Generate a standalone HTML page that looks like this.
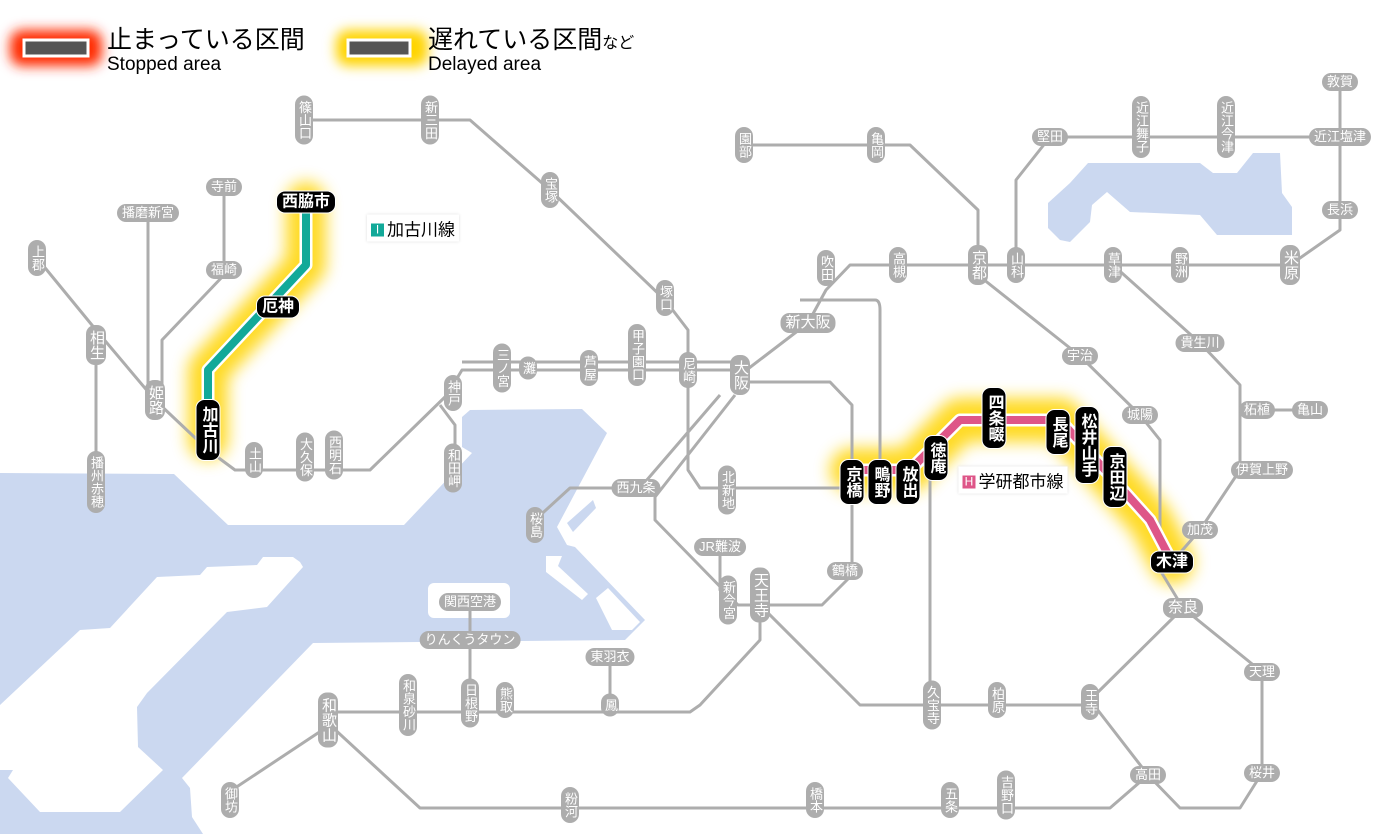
<!DOCTYPE html>
<html><head><meta charset="utf-8"><style>
body{margin:0;width:1400px;height:834px;overflow:hidden;background:#fff;position:relative;font-family:"Liberation Sans","Noto Sans CJK JP",sans-serif}
svg{position:absolute;left:0;top:0}
.s{position:absolute;transform:translate(-50%,-50%);background:#adadad;color:#fff;border-radius:9px;font-size:13px;line-height:14px;white-space:nowrap;padding:2px 5px;font-family:"Liberation Sans","Noto Sans CJK JP",sans-serif}
.v{writing-mode:vertical-rl;padding:5px 2px;letter-spacing:0}
.b{font-size:15px;line-height:16px}
.k{background:#000;font-size:16px;line-height:17px;font-weight:bold;border:1px solid #fff}
.k.v{padding:6px 3px}
.lg{position:absolute;font-family:"Liberation Sans","Noto Sans CJK JP",sans-serif;color:#000}
.ln{position:absolute;transform:translate(-50%,-50%);background:#fff;padding:1px 4px;font-size:17px;box-shadow:0 0 3px #ddd;white-space:nowrap}
.ln i{font-style:normal;color:#fff;font-size:12px;line-height:13px;display:inline-block;width:13px;text-align:center;margin-right:3px;vertical-align:2px}
</style></head><body>
<svg width="1400" height="834" viewBox="0 0 1400 834">
<defs>
<filter id="bl" x="-50%" y="-50%" width="200%" height="200%"><feGaussianBlur stdDeviation="8"/></filter>
<filter id="bl2" x="-50%" y="-50%" width="200%" height="200%"><feGaussianBlur stdDeviation="6"/></filter>
</defs>
<!-- water -->
<g fill="#cbd8f0">
<polygon points="0,473 174,474 228,525 404,525 472,453 462,447 462,417 470,410 582,409 607,433 557,527 567,545 575,547 645,620 638,627 625,640 313,643 182,778 190,788 192,817 203,834 0,834"/>
<polygon points="567,523 593,500 596,508 573,532"/>
<polygon points="1088,163 1200,163 1213,173 1237,173 1253,153 1280,153 1282,193 1292,207 1292,235 1217,235 1200,215 1130,212 1107,192 1092,205 1090,222 1070,242 1060,240 1048,228 1048,203 1070,183"/>
</g>
<g fill="#fff">
<polygon points="300,562 293,557 263,557 257,565 207,567 200,575 157,577 110,628 80,630 0,705 0,770 13,770 8,778 40,812 120,812 163,770 138,747 137,707 147,693 227,612 267,607 303,567"/>
<rect x="428" y="583" width="82" height="35" rx="6"/>
<polygon points="546,556 562,556 558,566 588,594 582,600 546,572"/>
<polygon points="596,598 608,588 640,622 632,630 612,630"/>
</g>
<!-- glows -->
<g fill="none" stroke-linecap="round" stroke-linejoin="round">
<path d="M306,202 V265 L208,370 V440" stroke="#ffd400" stroke-width="40" filter="url(#bl)" opacity="0.85"/>
<path d="M852,470 H910 L960,420 H1060 L1150,520 L1172,562" stroke="#ffd400" stroke-width="44" filter="url(#bl)" opacity="0.85"/>
</g>
<!-- gray lines -->
<g fill="none" stroke="#adadad" stroke-width="3" stroke-linejoin="round">
<path d="M37,258 L96,330 L155,400 L208,450 L235,470 H370 L447,395 L462,370 H740"/>
<path d="M462,362 H740"/>
<path d="M96,330 V485"/>
<path d="M148,213 V385"/>
<path d="M224,187 V275 L162,340 V390"/>
<path d="M440,405 L455,425 V470"/>
<path d="M304,120 H470 L550,190 L665,300 L688,330 V470 L700,488 H852"/>
<path d="M750,382 H830 L852,405 V575 L822,605 H738 L655,520 V497 L735,395"/>
<path d="M720,395 L640,488 H570 L535,520"/>
<path d="M720,547 V590 L735,605"/>
<path d="M740,375 L808,323 L826,290 L850,265 H1290 L1340,230 V82"/>
<path d="M744,145 H910 L978,210 V265"/>
<path d="M1016,265 V180 L1050,137 H1340"/>
<path d="M800,300 H875 Q880,300 880,310 V470"/>
<path d="M930,480 V705"/>
<path d="M1113,265 L1200,343 L1240,385 V410 H1310"/>
<path d="M1240,410 V470 L1200,530 L1172,562"/>
<path d="M978,275 L1080,356 L1140,415 L1160,440 V570 L1183,608 L1262,672 V773"/>
<path d="M1183,608 L1090,700 L1148,775 L1180,808 H1240 L1262,773"/>
<path d="M760,605 L860,705 H1090"/>
<path d="M760,610 V640 L700,705 L690,712 H330"/>
<path d="M470,602 V705"/>
<path d="M610,657 V705"/>
<path d="M330,725 L232,790"/>
<path d="M330,725 L420,808 H1110 L1148,775"/>
</g>
<!-- colored lines -->
<g fill="none" stroke-linecap="round" stroke-linejoin="round">
<path d="M306,202 V265 L208,370 V440" stroke="#fff" stroke-width="13"/>
<path d="M306,202 V265 L208,370 V440" stroke="#12a999" stroke-width="8"/>
<path d="M852,470 H910 L960,420 H1060 L1150,520 L1172,562" stroke="#fff" stroke-width="13"/>
<path d="M852,470 H910 L960,420 H1060 L1150,520 L1172,562" stroke="#de5588" stroke-width="8"/>
</g>
<!-- legend -->
<rect x="10" y="30" width="92" height="36" rx="12" fill="#ff2a00" filter="url(#bl2)"/>
<rect x="24" y="40" width="64" height="16" fill="#555" stroke="#fff" stroke-width="3"/>
<rect x="336" y="30" width="92" height="36" rx="12" fill="#ffd400" filter="url(#bl2)"/>
<rect x="348" y="40" width="62" height="16" fill="#555" stroke="#fff" stroke-width="3"/>
</svg>
<div class="lg" style="left:107px;top:25px;font-size:25px;line-height:30px">止まっている区間</div>
<div class="lg" style="left:107px;top:54px;font-size:19px">Stopped area</div>
<div class="lg" style="left:428px;top:25px;font-size:25px;line-height:30px">遅れている区間<span style="font-size:16px">など</span></div>
<div class="lg" style="left:428px;top:54px;font-size:19px">Delayed area</div>

<div class="ln" style="left:413px;top:228px"><i style="background:#12a999">I</i>加古川線</div>
<div class="ln" style="left:1013px;top:480px"><i style="background:#de5588">H</i>学研都市線</div>

<div class="s v" style="left:304px;top:120px">篠山口</div>
<div class="s v" style="left:430px;top:120px">新三田</div>
<div class="s v" style="left:550px;top:190px">宝塚</div>
<div class="s v" style="left:665px;top:298px">塚口</div>
<div class="s v" style="left:688px;top:370px">尼崎</div>
<div class="s v" style="left:637px;top:355px">甲子園口</div>
<div class="s v" style="left:589px;top:368px">芦屋</div>
<div class="s v" style="left:528px;top:368px">灘</div>
<div class="s v" style="left:502px;top:368px">三ノ宮</div>
<div class="s v" style="left:453px;top:393px">神戸</div>
<div class="s v" style="left:453px;top:468px">和田岬</div>
<div class="s v" style="left:334px;top:455px">西明石</div>
<div class="s v" style="left:305px;top:457px">大久保</div>
<div class="s v" style="left:254px;top:460px">土山</div>
<div class="s v b" style="left:155px;top:400px">姫路</div>
<div class="s v b" style="left:96px;top:345px">相生</div>
<div class="s v" style="left:37px;top:258px">上郡</div>
<div class="s v" style="left:96px;top:482px">播州赤穂</div>
<div class="s v" style="left:535px;top:525px">桜島</div>
<div class="s v" style="left:727px;top:490px">北新地</div>
<div class="s v" style="left:728px;top:600px">新今宮</div>
<div class="s v b" style="left:760px;top:595px">天王寺</div>
<div class="s v" style="left:744px;top:145px">園部</div>
<div class="s v" style="left:876px;top:145px">亀岡</div>
<div class="s v" style="left:826px;top:268px">吹田</div>
<div class="s v" style="left:898px;top:265px">高槻</div>
<div class="s v b" style="left:978px;top:265px">京都</div>
<div class="s v" style="left:1016px;top:265px">山科</div>
<div class="s v" style="left:1113px;top:265px">草津</div>
<div class="s v" style="left:1180px;top:265px">野洲</div>
<div class="s v b" style="left:1290px;top:265px">米原</div>
<div class="s v" style="left:1141px;top:127px">近江舞子</div>
<div class="s v" style="left:1226px;top:127px">近江今津</div>
<div class="s v" style="left:932px;top:705px">久宝寺</div>
<div class="s v" style="left:997px;top:700px">柏原</div>
<div class="s v" style="left:1090px;top:702px">王寺</div>
<div class="s v" style="left:408px;top:705px">和泉砂川</div>
<div class="s v" style="left:470px;top:703px">日根野</div>
<div class="s v" style="left:505px;top:700px">熊取</div>
<div class="s v" style="left:610px;top:705px">鳳</div>
<div class="s v b" style="left:328px;top:720px">和歌山</div>
<div class="s v" style="left:230px;top:800px">御坊</div>
<div class="s v" style="left:570px;top:805px">粉河</div>
<div class="s v" style="left:815px;top:800px">橋本</div>
<div class="s v" style="left:950px;top:800px">五条</div>
<div class="s v" style="left:1006px;top:795px">吉野口</div>
<div class="s v b" style="left:740px;top:375px">大阪</div>

<div class="s" style="left:148px;top:213px">播磨新宮</div>
<div class="s" style="left:224px;top:187px">寺前</div>
<div class="s" style="left:224px;top:270px">福崎</div>
<div class="s" style="left:636px;top:488px">西九条</div>
<div class="s" style="left:720px;top:547px">JR難波</div>
<div class="s" style="left:845px;top:571px">鶴橋</div>
<div class="s b" style="left:808px;top:323px">新大阪</div>
<div class="s" style="left:1050px;top:137px">堅田</div>
<div class="s" style="left:1340px;top:137px">近江塩津</div>
<div class="s" style="left:1340px;top:82px">敦賀</div>
<div class="s" style="left:1340px;top:210px">長浜</div>
<div class="s" style="left:1080px;top:356px">宇治</div>
<div class="s" style="left:1140px;top:415px">城陽</div>
<div class="s" style="left:1200px;top:343px">貴生川</div>
<div class="s" style="left:1257px;top:410px">柘植</div>
<div class="s" style="left:1310px;top:410px">亀山</div>
<div class="s" style="left:1262px;top:470px">伊賀上野</div>
<div class="s" style="left:1200px;top:530px">加茂</div>
<div class="s b" style="left:1183px;top:608px">奈良</div>
<div class="s" style="left:1262px;top:672px">天理</div>
<div class="s" style="left:1262px;top:773px">桜井</div>
<div class="s" style="left:1148px;top:775px">高田</div>
<div class="s" style="left:610px;top:657px">東羽衣</div>
<div class="s" style="left:470px;top:640px">りんくうタウン</div>
<div class="s" style="left:470px;top:602px">関西空港</div>

<div class="s k" style="left:306px;top:202px">西脇市</div>
<div class="s k" style="left:278px;top:307px">厄神</div>
<div class="s k v" style="left:208px;top:430px">加古川</div>
<div class="s k v" style="left:852px;top:482px">京橋</div>
<div class="s k v" style="left:880px;top:482px">鴫野</div>
<div class="s k v" style="left:908px;top:482px">放出</div>
<div class="s k v" style="left:936px;top:458px">徳庵</div>
<div class="s k v" style="left:994px;top:418px">四条畷</div>
<div class="s k v" style="left:1058px;top:432px">長尾</div>
<div class="s k v" style="left:1087px;top:445px">松井山手</div>
<div class="s k v" style="left:1115px;top:477px">京田辺</div>
<div class="s k" style="left:1172px;top:562px">木津</div>
</body></html>
